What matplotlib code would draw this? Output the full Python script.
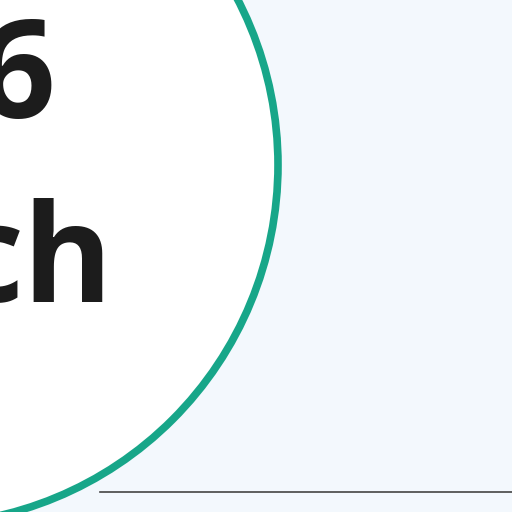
import matplotlib
matplotlib.use("Agg")
import matplotlib.pyplot as plt
from matplotlib.patches import Circle

# Data / text pieces visible in the crop
labels = ["6", "ch"]
label_right = [55, 113]
label_base = [118, 302]

fig = plt.figure(figsize=(5.12, 5.12), dpi=100)
ax = fig.add_axes([0, 0, 1, 1])
ax.set_xlim(0, 512)
ax.set_ylim(512, 0)
ax.axis("off")
fig.patch.set_facecolor("#f3f8fd")

ax.plot([100, 512], [492, 492], color="#444444", lw=1.2, zorder=1)
ax.add_patch(Circle((-82, 165), 360, facecolor="white", edgecolor="#17a689",
                    lw=5.5, zorder=2))

for txt, x, y in zip(labels, label_right, label_base):
    ax.text(x, y, txt, ha="right", va="baseline", fontsize=98,
            fontweight="bold", family="Open Sans", color="#1c1c1c", zorder=3)

fig.savefig("out.png", dpi=100)
